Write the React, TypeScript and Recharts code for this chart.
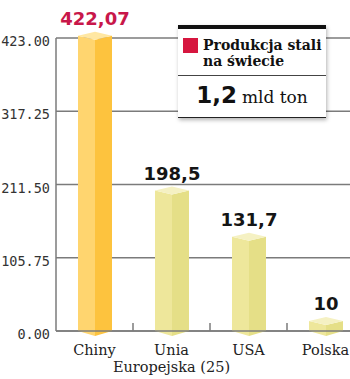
import React from 'react';
import { BarChart, Bar, XAxis, YAxis, CartesianGrid, LabelList } from 'recharts';

const countries = ['Chiny', 'Unia\nEuropejska (25)', 'USA', 'Polska'];
const production = [422.07, 198.5, 131.7, 10];
const valueLabels = ['422,07', '198,5', '131,7', '10'];
const yTicks = [0, 105.75, 211.5, 317.25, 423];
const legendTitle = ['Produkcja stali', 'na świecie'];
const legendValue = '1,2';
const legendUnit = 'mld ton';

const data = countries.map((name, i) => ({ name, value: production[i], label: valueLabels[i] }));

// faces: left, right, cap
const palettes = [
  ['#FFD56F', '#FDC33E', '#FFE7A2'],
  ['#EEE79B', '#E5DF87', '#F5F1C3'],
];
const labelColors = ['#C8174A', '#151515'];

const serif = '"DejaVu Serif", serif';
const mono = '"DejaVu Sans Mono", monospace';
const gridColor = '#7b7b7b';
const band = 77;

const Prism = (props: any) => {
  const { x, y, width, height, index } = props;
  const [l, r, c] = palettes[index === 0 ? 0 : 1];
  const m = x + width / 2;
  const b = y + height;
  const e = x + width;
  return (
    <g>
      <path d={`M${x},${y - 3} L${m},${y + 1} L${m},${b + 5} L${x},${b} Z`} fill={l} />
      <path d={`M${m},${y + 1} L${e},${y - 3} L${e},${b} L${m},${b + 5} Z`} fill={r} />
      <path d={`M${x},${y - 3} L${m},${y - 7} L${e},${y - 3} L${m},${y + 1} Z`} fill={c} />
    </g>
  );
};

const ValueLabel = (props: any) => {
  const { x, y, width, index } = props;
  return (
    <text
      x={x + width / 2}
      y={y - 14}
      textAnchor="middle"
      fontFamily='"DejaVu Sans", sans-serif'
      fontWeight="bold"
      fontSize={18}
      fill={labelColors[index === 0 ? 0 : 1]}
    >
      {valueLabels[index]}
    </text>
  );
};

const CategoryTick = (props: any) => {
  const { x, y, payload, index } = props;
  const lines = String(payload.value).split('\n');
  return (
    <g>
      {index > 0 && (
        <line x1={x - band / 2} x2={x - band / 2} y1={y - 8} y2={y} stroke={gridColor} strokeWidth={1.5} />
      )}
      {lines.map((t, i) => (
        <text key={i} x={x} y={y + 24 + i * 17} textAnchor="middle" fontFamily={serif} fontSize={14.5} fill="#222">
          {t}
        </text>
      ))}
    </g>
  );
};

const ValueTick = (props: any) => {
  const { x, y, payload } = props;
  return (
    <text x={x} y={y + 8} textAnchor="end" fontFamily={mono} fontSize={13.5} fill="#333">
      {Number(payload.value).toFixed(2)}
    </text>
  );
};

const LegendBox = () => (
  <div
    style={{
      position: 'absolute',
      left: 178,
      top: 25,
      width: 148,
      background: '#fff',
      borderTop: '4px solid #111',
      borderBottom: '1px solid #222',
      boxShadow: '1px 2px 4px rgba(0,0,0,0.3)',
      fontFamily: serif,
      color: '#111',
    }}
  >
    <div style={{ display: 'flex', padding: '8px 2px 6px 5px', borderBottom: '1px solid #444' }}>
      <div style={{ width: 15, height: 15, background: '#D6163F', marginTop: 1, marginRight: 5, flexShrink: 0 }} />
      <div style={{ fontSize: 14, fontWeight: 'bold', lineHeight: '16px', whiteSpace: 'nowrap' }}>
        {legendTitle[0]}
        <br />
        {legendTitle[1]}
      </div>
    </div>
    <div style={{ textAlign: 'center', padding: '6px 0 9px 0', whiteSpace: 'nowrap' }}>
      <span style={{ fontFamily: '"DejaVu Sans", sans-serif', fontWeight: 'bold', fontSize: 23 }}>{legendValue}</span>
      <span style={{ fontSize: 17, marginLeft: 5 }}>{legendUnit}</span>
    </div>
  </div>
);

export default function App() {
  return (
    <div style={{ position: 'absolute', left: 0, top: 0, width: 350, height: 379, overflow: 'hidden', background: '#fff' }}>
      <BarChart width={370} height={379} data={data} margin={{ top: 38, right: 6, left: 0, bottom: 8 }} barSize={34}>
        <CartesianGrid vertical={false} stroke={gridColor} strokeWidth={1.5} />
        <XAxis
          dataKey="name"
          height={40}
          tickLine={false}
          tickSize={0}
          tickMargin={0}
          axisLine={{ stroke: gridColor, strokeWidth: 1.5 }}
          tick={<CategoryTick />}
          interval={0}
        />
        <YAxis
          width={56}
          domain={[0, 423]}
          ticks={yTicks}
          tickLine={false}
          tickSize={0}
          tickMargin={6}
          axisLine={{ stroke: gridColor, strokeWidth: 1.5 }}
          tick={<ValueTick />}
        />
        <Bar dataKey="value" shape={<Prism />} isAnimationActive={false}>
          <LabelList dataKey="label" content={<ValueLabel />} />
        </Bar>
      </BarChart>
      <LegendBox />
    </div>
  );
}
